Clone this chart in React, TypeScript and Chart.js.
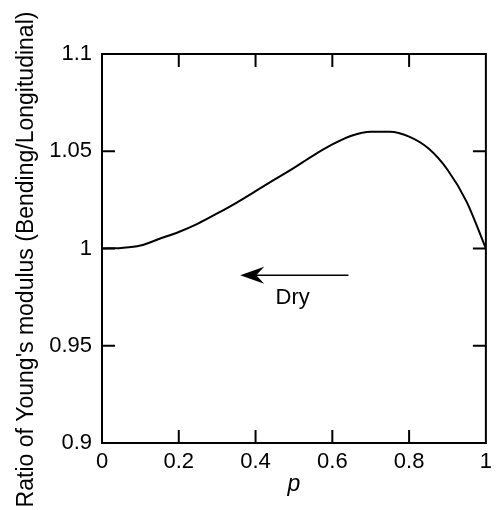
import React, { useEffect, useRef } from "react";
import { Chart, registerables } from "chart.js";

Chart.register(...registerables);

const P_VALUES = [0, 0.05, 0.1, 0.15, 0.2, 0.25, 0.3, 0.35, 0.4, 0.45, 0.5, 0.55, 0.6, 0.65, 0.7, 0.75, 0.8, 0.85, 0.9, 0.95, 1.0];
const RATIO_VALUES = [1.0, 1.0003, 1.0015, 1.005, 1.0085, 1.0128, 1.018, 1.0235, 1.0295, 1.0355, 1.0415, 1.0478, 1.0535, 1.058, 1.06, 1.06, 1.0575, 1.0515, 1.0405, 1.024, 1.0];

const X_TICKS = [0, 0.2, 0.4, 0.6, 0.8, 1];
const Y_TICKS = [0.9, 0.95, 1, 1.05, 1.1];
const Y_TICK_LABELS = ["0.9", "0.95", "1", "1.05", "1.1"];
const X_TICK_LABELS = ["0", "0.2", "0.4", "0.6", "0.8", "1"];

const X_TITLE = "p";
const Y_TITLE = "Ratio of Young's modulus (Bending/Longitudinal)";

const ARROW_FROM = [0.642, 0.9863];
const ARROW_TO = [0.36, 0.9863];
const ANNOT_TEXT = "Dry";
const ANNOT_POS = [0.4966, 0.9714];

const FONT = '"Liberation Sans", Arial, Helvetica, sans-serif';

const framePlugin = {
  id: "framePlugin",
  afterDraw(chart: any) {
    const ctx = chart.ctx;
    const { left, right, top, bottom } = chart.chartArea;
    const xs = chart.scales.x;
    const ys = chart.scales.y;
    ctx.save();
    ctx.strokeStyle = "#000";
    ctx.lineWidth = 2;
    ctx.strokeRect(left, top, right - left, bottom - top);
    const tl = 13;
    ctx.beginPath();
    X_TICKS.forEach((v) => {
      const px = xs.getPixelForValue(v);
      if (Math.abs(px - left) < 2 || Math.abs(px - right) < 2) return;
      ctx.moveTo(px, bottom);
      ctx.lineTo(px, bottom - tl);
      ctx.moveTo(px, top);
      ctx.lineTo(px, top + tl);
    });
    Y_TICKS.forEach((v) => {
      const py = ys.getPixelForValue(v);
      if (Math.abs(py - top) < 2 || Math.abs(py - bottom) < 2) return;
      ctx.moveTo(left, py);
      ctx.lineTo(left + tl, py);
      ctx.moveTo(right, py);
      ctx.lineTo(right - tl, py);
    });
    ctx.stroke();

    // arrow
    const x0 = xs.getPixelForValue(ARROW_FROM[0]);
    const y0 = ys.getPixelForValue(ARROW_FROM[1]);
    const x1 = xs.getPixelForValue(ARROW_TO[0]);
    const y1 = ys.getPixelForValue(ARROW_TO[1]);
    ctx.lineWidth = 1.5;
    ctx.beginPath();
    ctx.moveTo(x0, y0);
    ctx.lineTo(x1 + 10, y1);
    ctx.stroke();
    ctx.fillStyle = "#000";
    ctx.beginPath();
    ctx.moveTo(x1, y1);
    ctx.lineTo(x1 + 24, y1 - 8.5);
    ctx.lineTo(x1 + 16, y1);
    ctx.lineTo(x1 + 24, y1 + 8.5);
    ctx.closePath();
    ctx.fill();

    // annotation text
    ctx.font = `22px ${FONT}`;
    ctx.textAlign = "center";
    ctx.textBaseline = "alphabetic";
    ctx.fillText(ANNOT_TEXT, xs.getPixelForValue(ANNOT_POS[0]), ys.getPixelForValue(ANNOT_POS[1]));

    // y title
    ctx.save();
    ctx.translate(32.5, 259.5);
    ctx.rotate(-Math.PI / 2);
    ctx.font = `23px ${FONT}`;
    ctx.textAlign = "center";
    ctx.textBaseline = "alphabetic";
    ctx.fillText(Y_TITLE, 0, 0);
    ctx.restore();

    // x title
    ctx.font = `italic 23px ${FONT}`;
    ctx.textAlign = "center";
    ctx.textBaseline = "alphabetic";
    ctx.fillText(X_TITLE, (left + right) / 2, 491);
    ctx.restore();
  },
};

export default function App() {
  const ref = useRef<HTMLCanvasElement | null>(null);
  useEffect(() => {
    if (!ref.current) return;
    const chart = new Chart(ref.current, {
      type: "line",
      data: {
        datasets: [
          {
            data: P_VALUES.map((p, i) => ({ x: p, y: RATIO_VALUES[i] })),
            borderColor: "#000",
            borderWidth: 2,
            pointRadius: 0,
            fill: false,
            cubicInterpolationMode: "monotone",
          },
        ],
      },
      options: {
        animation: false,
        responsive: false,
        devicePixelRatio: 1,
        layout: { padding: { top: 54, right: 7, left: 0, bottom: 0 } },
        plugins: { legend: { display: false }, tooltip: { enabled: false } },
        scales: {
          x: {
            type: "linear",
            min: 0,
            max: 1,
            grid: { display: false, drawTicks: false },
            border: { display: false },
            afterBuildTicks: (s: any) => {
              s.ticks = X_TICKS.map((v) => ({ value: v }));
            },
            afterFit: (s: any) => {
              s.height = 67;
            },
            ticks: {
              color: "#000",
              padding: 6,
              maxRotation: 0,
              autoSkip: false,
              font: { family: FONT, size: 22 },
              callback: (v: any, i: number) => X_TICK_LABELS[i],
            },
          },
          y: {
            type: "linear",
            min: 0.9,
            max: 1.1,
            grid: { display: false, drawTicks: false },
            border: { display: false },
            afterBuildTicks: (s: any) => {
              s.ticks = Y_TICKS.map((v) => ({ value: v }));
            },
            afterFit: (s: any) => {
              s.width = 102;
            },
            ticks: {
              color: "#000",
              padding: 10,
              autoSkip: false,
              font: { family: FONT, size: 22 },
              callback: (v: any, i: number) => Y_TICK_LABELS[i],
            },
          },
        },
      },
      plugins: [framePlugin],
    } as any);
    return () => chart.destroy();
  }, []);
  return (
    <div style={{ position: "absolute", left: 0, top: 0, width: 498, height: 510, background: "#fff" }}>
      <canvas ref={ref} width={498} height={510} style={{ width: 498, height: 510, display: "block" }} />
    </div>
  );
}
